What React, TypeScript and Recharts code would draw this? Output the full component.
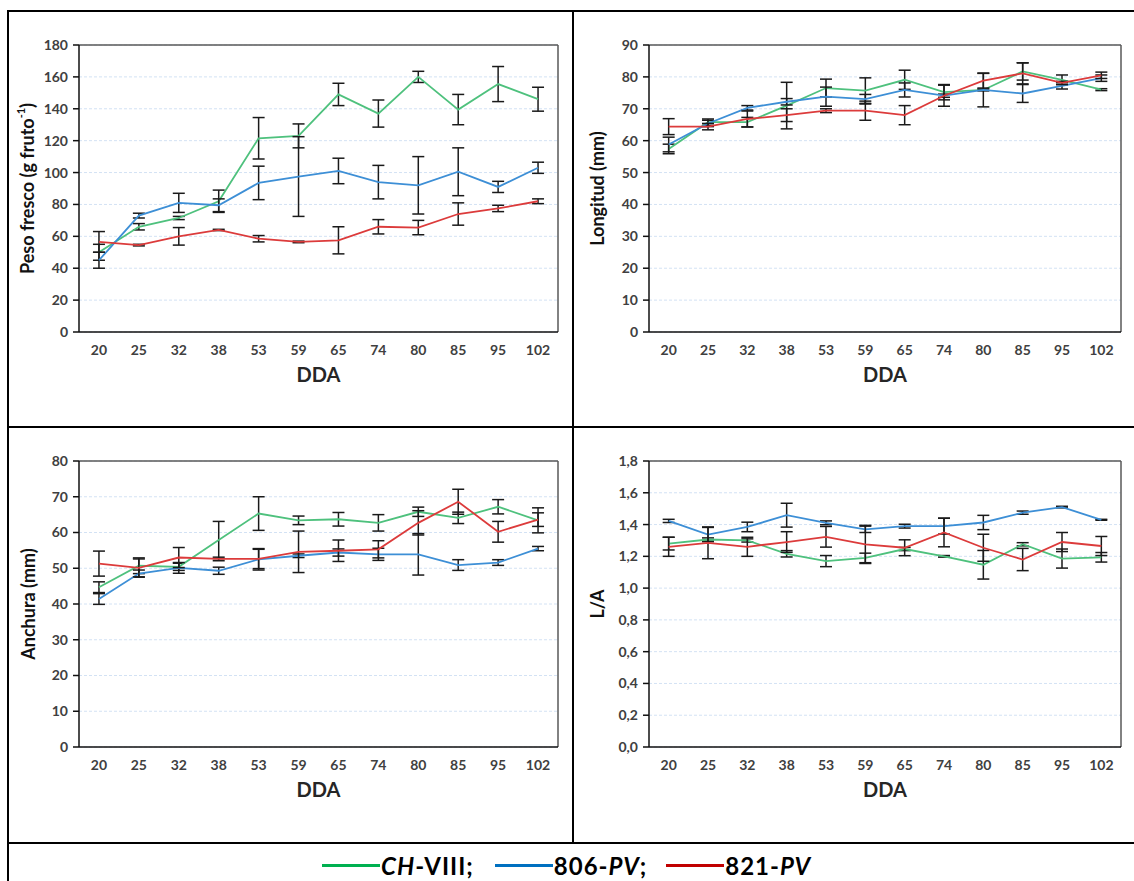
import React from "react";
import {
  LineChart,
  Line,
  XAxis,
  YAxis,
  CartesianGrid,
  ErrorBar,
  ReferenceLine,
} from "recharts";

const DDA = ["20", "25", "32", "38", "53", "59", "65", "74", "80", "85", "95", "102"];

// Peso fresco (g fruto-1)
const pesoCH = [50, 66, 71.5, 82, 121.5, 123, 149, 137, 160, 139.5, 155.5, 146];
const pesoCHErr = [5, 2, 1, 7, 13, 7.5, 7, 8.5, 3.5, 9.5, 11, 7.5];
const peso806 = [45, 73, 81, 79.5, 93.5, 97.5, 101, 94, 92, 100.5, 91, 103];
const peso806Err = [5, 1.5, 6, 4, 10.5, 25, 8, 10.5, 18, 15, 3.5, 3.5];
const peso821 = [56.5, 54.5, 60, 64, 58.5, 56.5, 57.5, 66, 65.5, 74, 77.5, 82];
const peso821Err = [6.5, 0.5, 5.5, 0.4, 2, 0.5, 8.5, 4.5, 4.5, 7, 2, 1.5];

// Longitud (mm)
const longCH = [57.4, 65.8, 65.8, 71, 76.5, 75.7, 79.1, 75.2, 75.9, 81.7, 79.1, 76];
const longCHErr = [1.5, 1, 1.5, 7.3, 2.8, 4, 3, 2.4, 5.3, 2.7, 1.5, 0.3];
const long806 = [58.8, 65.4, 70.3, 72.2, 73.8, 73, 75.9, 74.1, 75.9, 74.8, 77.2, 79.6];
const long806Err = [2.3, 1, 0.7, 1, 3, 1.5, 2.2, 0.5, 0.3, 2.8, 1, 1];
const long821 = [64.4, 64.4, 66.8, 68, 69.4, 69.4, 68, 74.1, 78.8, 81.1, 78.1, 80.5];
const long821Err = [2.5, 1, 2.5, 2, 0.6, 3, 3, 3.3, 2.3, 3.3, 0.5, 1];

// Anchura (mm)
const anchCH = [44.7, 50.7, 50.4, 57.9, 65.3, 63.4, 63.7, 62.7, 65.8, 64.1, 67.2, 63.4];
const anchCHErr = [1.5, 2.2, 1, 5.2, 4.7, 1.2, 1.9, 2.3, 1.3, 1.6, 2, 3.5];
const anch806 = [41.4, 48.5, 50.1, 49.3, 52.5, 53.5, 54.4, 53.9, 53.9, 50.9, 51.6, 55.5];
const anch806Err = [1.5, 1, 1.5, 1, 3, 0.5, 1, 1.7, 5.8, 1.5, 0.8, 0.6];
const anch821 = [51.3, 50.1, 53, 52.6, 52.6, 54.6, 54.9, 55.3, 62.7, 68.6, 60.2, 63.6];
const anch821Err = [3.5, 2.5, 2.8, 0.5, 2.7, 5.8, 3, 2.4, 3.4, 3.5, 2.9, 1.9];

// L/A
const laCH = [1.28, 1.306, 1.3, 1.216, 1.17, 1.19, 1.246, 1.2, 1.147, 1.276, 1.186, 1.194];
const laCHErr = [0.04, 0.01, 0.01, 0.02, 0.035, 0.03, 0.01, 0.005, 0.09, 0.01, 0.06, 0.03];
const la806 = [1.423, 1.337, 1.385, 1.459, 1.411, 1.37, 1.39, 1.39, 1.413, 1.475, 1.51, 1.43];
const la806Err = [0.01, 0.045, 0.03, 0.075, 0.012, 0.02, 0.012, 0.05, 0.045, 0.01, 0.005, 0.003];
const la821 = [1.26, 1.285, 1.26, 1.29, 1.323, 1.275, 1.254, 1.35, 1.254, 1.18, 1.29, 1.265];
const la821Err = [0.06, 0.1, 0.06, 0.065, 0.065, 0.12, 0.05, 0.09, 0.085, 0.07, 0.06, 0.06];

const FONT = "Lato, 'Open Sans', sans-serif";
const GREEN = "#4ec17d";
const BLUE = "#3d8fd6";
const RED = "#dc3b3b";
const AXIS = "#111";
const TICK_TEXT = "#404040";

const MARKS = Array.from({ length: DDA.length + 1 }, (_, i) => i);
const LABEL_POS = DDA.map((_, i) => i + 0.5);

function buildRows(ch: number[], chErr: number[], a: number[], aErr: number[], b: number[], bErr: number[]) {
  return DDA.map((d, i) => ({
    pos: i + 0.5,
    dda: d,
    ch: ch[i],
    chErr: chErr[i],
    pv806: a[i],
    pv806Err: aErr[i],
    pv821: b[i],
    pv821Err: bErr[i],
  }));
}

interface PanelProps {
  rows: any[];
  left: number;
  top: number;
  width: number;
  height: number;
  margin: { top: number; right: number; bottom: number; left: number };
  yMax: number;
  yTicks: number[];
  yFormat?: (v: number) => string;
  yLabel: React.ReactNode;
  yLabelX: number;
}

function Panel({ rows, left, top, width, height, margin, yMax, yTicks, yFormat, yLabel, yLabelX }: PanelProps) {
  const tickStyle = { fill: TICK_TEXT, fontSize: 14, fontWeight: 700, fontFamily: FONT };
  return (
    <div style={{ position: "absolute", left, top, width, height }}>
      <LineChart width={width} height={height} data={rows} margin={margin}>
        <CartesianGrid
          xAxisId="lab"
          vertical={false}
          stroke="#d3e2f4"
          strokeDasharray="3 2"
        />
        <XAxis
          xAxisId="marks"
          type="number"
          dataKey="pos"
          domain={[0, DDA.length]}
          ticks={MARKS}
          tick={false}
          axisLine={false}
          tickLine={{ stroke: AXIS, strokeWidth: 1.5 }}
          tickSize={6}
          height={0}
          allowDataOverflow
        />
        <XAxis
          xAxisId="lab"
          type="number"
          dataKey="pos"
          domain={[0, DDA.length]}
          ticks={LABEL_POS}
          interval={0}
          tickFormatter={(v: number) => DDA[Math.floor(v)]}
          tick={tickStyle}
          tickLine={false}
          tickSize={6}
          tickMargin={7}
          axisLine={{ stroke: AXIS, strokeWidth: 1.5 }}
          height={50}
          label={(props: any) => {
            const vb = props.viewBox;
            return (
              <text
                x={vb.x + vb.width / 2}
                y={vb.y + 42}
                textAnchor="middle"
                dominantBaseline="central"
                fontFamily={FONT}
                fontWeight={700}
                fontSize={20}
                fill="#262626"
              >
                DDA
              </text>
            );
          }}
        />
        <YAxis
          type="number"
          domain={[0, yMax]}
          ticks={yTicks}
          interval={0}
          tickFormatter={yFormat}
          tick={tickStyle}
          tickLine={{ stroke: AXIS, strokeWidth: 1.5 }}
          tickSize={6}
          tickMargin={5}
          axisLine={{ stroke: AXIS, strokeWidth: 1.5 }}
          width={60}
          label={(props: any) => {
            const vb = props.viewBox;
            const cy = vb.y + vb.height / 2;
            return (
              <text
                x={yLabelX}
                y={cy}
                transform={`rotate(-90 ${yLabelX} ${cy})`}
                textAnchor="middle"
                dominantBaseline="central"
                fontFamily={FONT}
                fontWeight={700}
                fontSize={18}
                fill="#111"
              >
                {yLabel}
              </text>
            );
          }}
        />
        <ReferenceLine xAxisId="lab" y={yMax} stroke="#595959" strokeWidth={1.5} />
        <ReferenceLine xAxisId="lab" x={DDA.length} stroke="#595959" strokeWidth={1.5} />
        <Line
          xAxisId="lab"
          dataKey="ch"
          stroke={GREEN}
          strokeWidth={1.8}
          dot={false}
          isAnimationActive={false}
        >
          <ErrorBar dataKey="chErr" direction="y" width={6} stroke="#1a1a1a" strokeWidth={1.5} />
        </Line>
        <Line
          xAxisId="lab"
          dataKey="pv806"
          stroke={BLUE}
          strokeWidth={1.8}
          dot={false}
          isAnimationActive={false}
        >
          <ErrorBar dataKey="pv806Err" direction="y" width={6} stroke="#1a1a1a" strokeWidth={1.5} />
        </Line>
        <Line
          xAxisId="lab"
          dataKey="pv821"
          stroke={RED}
          strokeWidth={1.8}
          dot={false}
          isAnimationActive={false}
        >
          <ErrorBar dataKey="pv821Err" direction="y" width={6} stroke="#1a1a1a" strokeWidth={1.5} />
        </Line>
      </LineChart>
    </div>
  );
}

const commaFmt = (v: number) => v.toFixed(1).replace(".", ",");

function LegendItem({ color, children, gap }: { color: string; children: React.ReactNode; gap: number }) {
  return (
    <span style={{ display: "inline-flex", alignItems: "center", marginRight: gap }}>
      <span style={{ display: "inline-block", width: 58, height: 3, background: color, marginRight: 1 }} />
      <span>{children}</span>
    </span>
  );
}

export default function App() {
  const rowsPeso = buildRows(pesoCH, pesoCHErr, peso806, peso806Err, peso821, peso821Err);
  const rowsLong = buildRows(longCH, longCHErr, long806, long806Err, long821, long821Err);
  const rowsAnch = buildRows(anchCH, anchCHErr, anch806, anch806Err, anch821, anch821Err);
  const rowsLA = buildRows(laCH, laCHErr, la806, la806Err, la821, la821Err);

  const line = (l: number, t: number, w: number, h: number) => (
    <div style={{ position: "absolute", left: l, top: t, width: w, height: h, background: "#000" }} />
  );

  return (
    <div style={{ position: "absolute", left: 0, top: 0, width: 1134, height: 881, background: "#fff", overflow: "hidden" }}>
      {/* table borders */}
      {line(7, 10, 1127, 2)}
      {line(7, 10, 2, 871)}
      {line(572, 10, 2, 834)}
      {line(7, 426, 1127, 2)}
      {line(7, 842, 1127, 2)}

      <Panel
        rows={rowsPeso}
        left={10}
        top={12}
        width={562}
        height={414}
        margin={{ top: 33, right: 14, bottom: 44, left: 9 }}
        yMax={180}
        yTicks={[0, 20, 40, 60, 80, 100, 120, 140, 160, 180]}
        yLabel={
          <>
            <tspan>Peso fresco (g fruto</tspan>
            <tspan dy={-7} fontSize={11}>-1</tspan>
            <tspan dy={7}>)</tspan>
          </>
        }
        yLabelX={17}
      />
      <Panel
        rows={rowsLong}
        left={575}
        top={12}
        width={559}
        height={414}
        margin={{ top: 33, right: 13, bottom: 44, left: 14 }}
        yMax={90}
        yTicks={[0, 10, 20, 30, 40, 50, 60, 70, 80, 90]}
        yLabel="Longitud (mm)"
        yLabelX={22}
      />
      <Panel
        rows={rowsAnch}
        left={10}
        top={429}
        width={562}
        height={413}
        margin={{ top: 32, right: 14, bottom: 45, left: 9 }}
        yMax={80}
        yTicks={[0, 10, 20, 30, 40, 50, 60, 70, 80]}
        yLabel="Anchura (mm)"
        yLabelX={18}
      />
      <Panel
        rows={rowsLA}
        left={575}
        top={429}
        width={559}
        height={413}
        margin={{ top: 32, right: 13, bottom: 45, left: 14 }}
        yMax={1.8}
        yTicks={[0, 0.2, 0.4, 0.6, 0.8, 1.0, 1.2, 1.4, 1.6, 1.8]}
        yFormat={commaFmt}
        yLabel="L/A"
        yLabelX={22}
      />

      <div
        style={{
          position: "absolute",
          left: 322,
          top: 847,
          height: 36,
          display: "flex",
          alignItems: "center",
          fontFamily: FONT,
          fontWeight: 700,
          fontSize: 24,
          letterSpacing: 1,
          color: "#000",
          whiteSpace: "nowrap",
        }}
      >
        <LegendItem color="#00b050" gap={21}>
          <i>CH</i>-VIII;
        </LegendItem>
        <LegendItem color="#0070c0" gap={19}>
          806-<i>PV</i>;
        </LegendItem>
        <LegendItem color="#c00000" gap={0}>
          821-<i>PV</i>
        </LegendItem>
      </div>
    </div>
  );
}
